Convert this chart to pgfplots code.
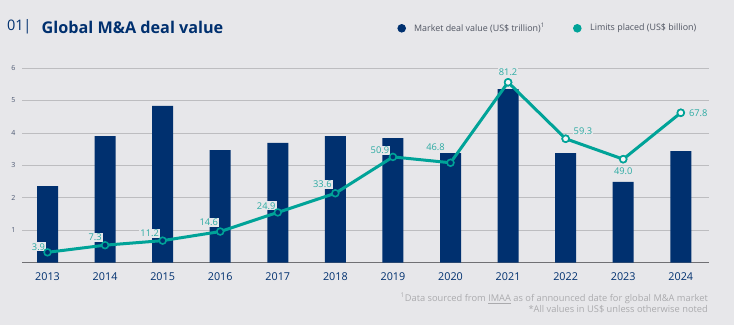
\documentclass[border=0pt]{standalone}
\usepackage{pgfplots}
\usepackage{pgfplotstable}
\pgfplotsset{compat=1.18}
\usepackage{fontspec}
\setmainfont{Open Sans}
\definecolor{bg}{HTML}{E7E7EA}
\definecolor{navy}{HTML}{00306F}
\definecolor{tealc}{HTML}{00A398}
\definecolor{tealt}{HTML}{2BAAA2}
\definecolor{gridc}{HTML}{BDBDC0}
\definecolor{axisc}{HTML}{707074}
\definecolor{ytc}{HTML}{4A5670}
\definecolor{legtext}{HTML}{505562}
\definecolor{foot}{HTML}{ABABAE}

\pgfplotstableread{
x bar line lab dx dy
0 2.36 0.32 3.9 -9 5.6
1 3.90 0.54 7.3 -10 7.6
2 4.83 0.68 11.2 -13 7.4
3 3.47 0.96 14.6 -11.5 9
4 3.69 1.55 24.9 -11.6 6.6
5 3.90 2.14 33.6 -13 8.7
6 3.84 3.26 50.9 -13 6.7
7 3.38 3.08 46.8 -15 15.3
8 5.35 5.56 81.2 0 10.3
9 3.38 3.82 59.3 17.3 8
10 2.49 3.19 49.0 0 -12.3
11 3.44 4.62 67.8 17.5 0
}\datatable

\begin{document}
\begin{tikzpicture}
\fill[bg] (0,0) rectangle (734pt,325pt);
% title
\node[anchor=west, inner sep=0pt, text=navy, font=\fontsize{14.5}{14.5}\selectfont] at (7pt,298pt) {01\kern-0.5pt|};
\node[anchor=west, inner sep=0pt, text=navy, font=\fontsize{16.2}{16.2}\selectfont\bfseries] at (41.5pt,298pt) {Global M\&A deal value};
% legend
\fill[navy] (401.7pt,296.7pt) circle (4.3pt);
\node[anchor=west, inner sep=0pt, text=legtext, font=\fontsize{8.9}{8.9}\selectfont] at (414pt,296.7pt) {Market deal value (US\$ trillion)\textsuperscript{1}};
\fill[tealc] (577.3pt,296.7pt) circle (4.3pt);
\node[anchor=west, inner sep=0pt, text=legtext, font=\fontsize{8.9}{8.9}\selectfont] at (590pt,296.7pt) {Limits placed (US\$ billion)};
% footnote
\node[anchor=east, inner sep=0pt, text=foot, font=\fontsize{9.3}{9.3}\selectfont] at (708pt,26.7pt) {\textsuperscript{1}Data sourced from \underline{IMAA} as of announced date for global M\&A market};
\node[anchor=east, inner sep=0pt, text=foot, font=\fontsize{9.3}{9.3}\selectfont] at (708pt,16pt) {*All values in US\$ unless otherwise noted};

\begin{axis}[
  at={(22pt,62.3pt)}, anchor=south west,
  scale only axis, width=687pt, height=194.7pt,
  xmin=-0.443, xmax=11.49, ymin=0, ymax=6,
  axis x line*=bottom, axis y line*=left,
  x axis line style={draw=axisc, line width=1pt, -},
  y axis line style={draw=none},
  ymajorgrids, grid style={draw=gridc, line width=0.8pt},
  major tick length=0pt,
  ytick={1,2,3,4,5,6},
  xtick={0,...,11},
  xticklabels={2013,2014,2015,2016,2017,2018,2019,2020,2021,2022,2023,2024},
  /pgf/number format/assume math mode=true,
  yticklabel style={font=\fontsize{7}{7}\selectfont, text=ytc, xshift=-3pt},
  xticklabel style={font=\fontsize{10.8}{10.8}\selectfont, text=navy, yshift=-6.5pt},
  clip=false,
]
\addplot[ybar, bar width=21pt, fill=navy, draw=none] table[x=x, y=bar] {\datatable};
\addplot[draw=none, mark=none,
  nodes near coords, point meta=explicit symbolic,
  visualization depends on={\thisrow{dx} \as \dx},
  visualization depends on={\thisrow{dy} \as \dy},
  every node near coord/.append style={anchor=center, xshift=\dx pt, yshift=\dy pt, fill=bg, inner sep=1.2pt, text=tealt, font=\fontsize{9.3}{9.3}\selectfont},
] table[x=x, y=line, meta=lab] {\datatable};
\addplot[tealc, line width=3pt, mark=*, mark size=3.4pt, mark options={fill=navy, draw=tealc, line width=1.6pt}] table[x=x, y=line] {\datatable};
\addplot[only marks, mark=*, mark size=3.4pt, mark options={fill=bg!40!white, draw=tealc, line width=1.6pt}, restrict x to domain=7.5:11.5] table[x=x, y=line] {\datatable};
\end{axis}
\end{tikzpicture}
\end{document}
